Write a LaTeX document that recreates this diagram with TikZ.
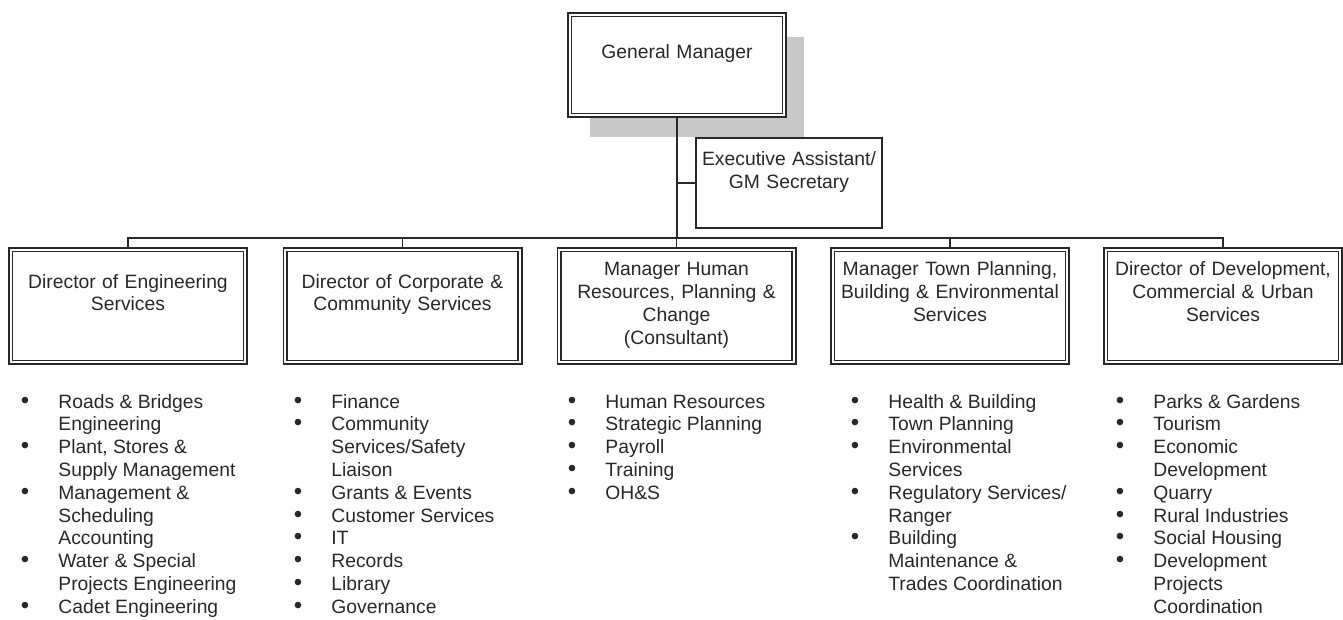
\documentclass[tikz,border=0pt]{standalone}
\usepackage{fontspec}
\setmainfont{Liberation Sans}
\usetikzlibrary{shadows}

\definecolor{inkgray}{RGB}{40,40,40}
\definecolor{shadegray}{RGB}{200,200,200}
\newcommand{\orgfont}{\fontsize{9.65}{11.4}\selectfont}
\newcommand{\dutymark}{{\fontsize{12}{11.4}\selectfont\textbullet}}

\tikzset{
  headbox/.style={draw=inkgray, double=white, double distance=1pt, line width=0.8pt,
    fill=white, minimum width=117.4pt, minimum height=56.4pt, inner sep=0pt},
  boxtext/.style={text width=118pt, align=center, anchor=base, inner sep=0pt,
    font=\orgfont, text=inkgray},
  duties/.style={anchor=base west, inner sep=0pt, font=\orgfont, text=inkgray},
  conn/.style={draw=inkgray, line width=0.75pt}
}

\begin{document}
\begin{tikzpicture}[x=0.5pt, y=-0.5pt]
    \useasboundingbox (0,0) rectangle (1343,620);

    % top of the chart
    \node[headbox, minimum width=107.4pt, minimum height=50.4pt,
      drop shadow={shadow xshift=10pt, shadow yshift=-11pt, fill=shadegray, opacity=1}]
      (gm) at (677,65) {};
    \node[boxtext, text width=108pt] (gmtxt) at (677,59) {General Manager};
    \node[draw=inkgray, line width=0.8pt, minimum width=93.2pt, minimum height=45.2pt,
      inner sep=0pt, fill=white] (exec) at (789,183) {};
    \node[boxtext, text width=100pt] (exectxt) at (789,166) {Executive Assistant/\\GM Secretary};

    % the five directors
    \node[headbox] (eng) at (128,306) {};
    \node[headbox] (corp) at (402.5,306) {};
    \node[headbox] (hr) at (676.5,306) {};
    \node[headbox] (plan) at (950,306) {};
    \node[headbox] (dev) at (1223,306) {};

    \node[boxtext] (engtxt) at (128,288) {Director of Engineering\\Services};
    \node[boxtext] (corptxt) at (402.5,288) {Director of Corporate \&\\Community Services};
    \node[boxtext] (hrtxt) at (676.5,276) {Manager Human\\Resources, Planning \&\\Change\\(Consultant)};
    \node[boxtext] (plantxt) at (950,276) {Manager Town Planning,\\Building \& Environmental\\Services};
    \node[boxtext] (devtxt) at (1223,276) {Director of Development,\\Commercial \& Urban\\Services};

    % reporting lines
    \coordinate (split) at (677,238);
    \path[conn] (gm.south) -- (split);
    \path[conn] (exec.west) -- (exec.west -| gm.south);
    \path[conn] (eng.north) |- (split);
    \path[conn] (corp.north) |- (split);
    \path[conn] (hr.north) |- (split);
    \path[conn] (plan.north) |- (split);
    \path[conn] (dev.north) |- (split);

    % what each one looks after
    \node[duties] (engjobs) at (20.5,408) {\begin{tabular}[t]{@{}p{18.75pt}@{}l@{}}
      \dutymark & Roads \& Bridges\\ & Engineering\\
      \dutymark & Plant, Stores \&\\ & Supply Management\\
      \dutymark & Management \&\\ & Scheduling\\ & Accounting\\
      \dutymark & Water \& Special\\ & Projects Engineering\\
      \dutymark & Cadet Engineering
    \end{tabular}};
    \node[duties] (corpjobs) at (293.5,408) {\begin{tabular}[t]{@{}p{18.75pt}@{}l@{}}
      \dutymark & Finance\\
      \dutymark & Community\\ & Services/Safety\\ & Liaison\\
      \dutymark & Grants \& Events\\
      \dutymark & Customer Services\\
      \dutymark & IT\\
      \dutymark & Records\\
      \dutymark & Library\\
      \dutymark & Governance
    \end{tabular}};
    \node[duties] (hrjobs) at (567.5,408) {\begin{tabular}[t]{@{}p{18.75pt}@{}l@{}}
      \dutymark & Human Resources\\
      \dutymark & Strategic Planning\\
      \dutymark & Payroll\\
      \dutymark & Training\\
      \dutymark & OH\&S
    \end{tabular}};
    \node[duties] (planjobs) at (850.5,408) {\begin{tabular}[t]{@{}p{18.75pt}@{}l@{}}
      \dutymark & Health \& Building\\
      \dutymark & Town Planning\\
      \dutymark & Environmental\\ & Services\\
      \dutymark & Regulatory Services/\\ & Ranger\\
      \dutymark & Building\\ & Maintenance \&\\ & Trades Coordination
    \end{tabular}};
    \node[duties] (devjobs) at (1115.5,408) {\begin{tabular}[t]{@{}p{18.75pt}@{}l@{}}
      \dutymark & Parks \& Gardens\\
      \dutymark & Tourism\\
      \dutymark & Economic\\ & Development\\
      \dutymark & Quarry\\
      \dutymark & Rural Industries\\
      \dutymark & Social Housing\\
      \dutymark & Development\\ & Projects\\ & Coordination
    \end{tabular}};
\end{tikzpicture}
\end{document}
